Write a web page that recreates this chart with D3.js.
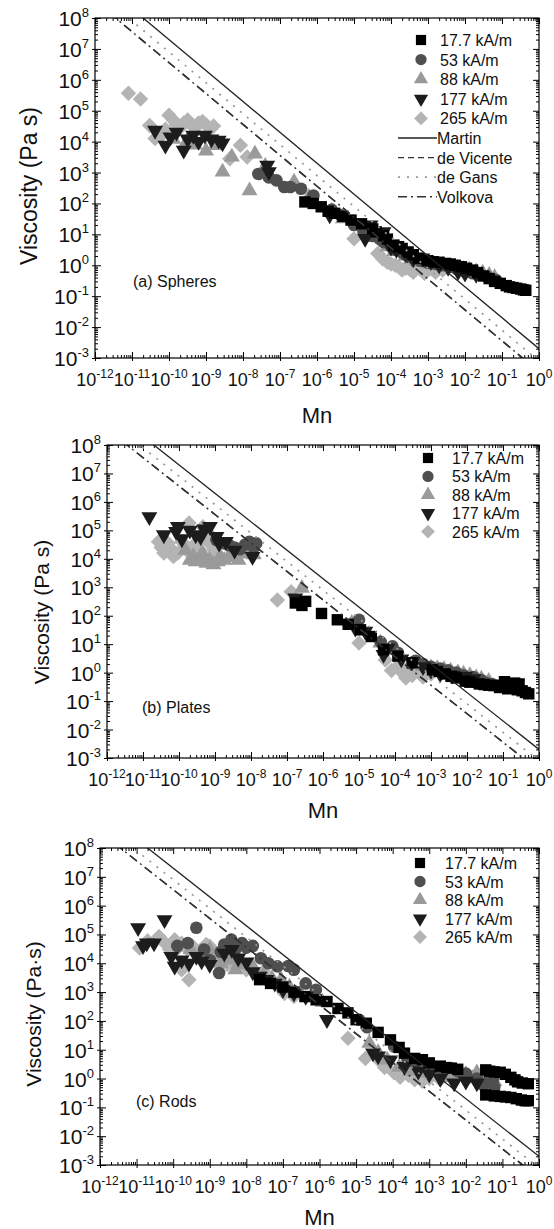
<!DOCTYPE html>
<html>
<head>
<meta charset="utf-8">
<script src="https://cdnjs.cloudflare.com/ajax/libs/d3/7.8.5/d3.min.js"></script>
<style>
body{margin:0;background:#fff}
svg{display:block;font-family:"Liberation Sans",Arial,sans-serif}
</style>
</head>
<body>
<svg id="fig" width="554" height="1229"></svg>
<script>
// tick exponents
var xExps = d3.range(-12, 1);
var yExps = d3.range(-3, 9);

var fields = ["17.7 kA/m", "53 kA/m", "88 kA/m", "177 kA/m", "265 kA/m"];
var models = ["Martin", "de Vicente", "de Gans", "Volkova"];
// viscosity = coef / Mn
var modelCoef = [2.0e-3, 3.6e-4, 8.0e-4, 3.6e-4];

// [Mn, viscosity (Pa s)]
var spheres17 = [[4.7e-7,112],[7.9e-7,100],[1.3e-6,78],[2e-6,56],[3e-6,48],[5e-6,38],[8.3e-6,29],[1.6e-5,22],[3.2e-5,15],[4e-5,12],[6.3e-5,9],[8e-5,7],[1.2e-4,4.5],[1.6e-4,4],[2e-4,3.5],[2.9e-4,2.7],[4e-4,2.2],[5.6e-4,1.7],[1e-3,1.4],[1.4e-3,1.3],[2e-3,1.25],[3e-3,1.15],[4e-3,1.1],[5.5e-3,1.0],[7.9e-3,0.9],[0.011,0.8],[0.016,0.7],[0.022,0.58],[0.032,0.45],[0.045,0.37],[0.063,0.3],[0.09,0.26],[0.13,0.22],[0.16,0.2],[0.2,0.19],[0.25,0.18],[0.32,0.17],[0.38,0.16],[0.44,0.155]];
var spheres53 = [[2.6e-8,900],[5e-8,700],[8e-8,560],[1.3e-7,340],[1.9e-7,340],[3.7e-7,300],[8e-7,180],[2.5e-6,63],[4.3e-6,42],[1e-5,20],[1.8e-5,12.6],[3.2e-5,8.9],[5e-5,7],[6.3e-5,5.6],[1e-4,4],[1.3e-4,3.2],[2e-4,2.6],[2.5e-4,2.2],[4e-4,1.7],[6.3e-4,1.4],[1e-3,1.2],[1.6e-3,1.1],[2.5e-3,1.0],[4e-3,0.9],[6e-3,0.75],[0.01,0.63],[0.016,0.55],[0.025,0.5],[0.04,0.42],[0.056,0.35],[0.07,0.33]];
var spheres88 = [[1.3e-10,12000],[3e-10,10000],[5e-10,7900],[1e-9,5000],[1.8e-9,7600],[2.8e-9,1050],[5e-9,3200],[1.5e-8,260],[2.1e-8,4000],[4e-8,1600],[2.4e-7,500],[6e-7,160],[2.5e-6,56],[5e-6,32],[3.2e-5,8],[8e-5,4],[1.2e-4,2.8],[2.5e-4,2],[3.5e-4,1.6],[5e-4,1.4],[7e-4,1.25],[1e-3,1.1],[1.6e-3,1.05],[2.5e-3,1.0],[4e-3,0.9],[6.3e-3,0.8],[9e-3,0.75],[0.013,0.7],[0.02,0.62],[0.03,0.56],[0.045,0.48],[0.063,0.4]];
var spheres177 = [[4.2e-11,23000],[8e-11,7600],[1.1e-10,14000],[1.6e-10,20000],[2.5e-10,5200],[3.2e-10,12000],[4.5e-10,16000],[6.3e-10,10000],[9.3e-10,16000],[1.4e-9,12000],[2.2e-9,11000],[2.8e-9,9000],[4.5e-8,1700],[5e-8,1050],[2.2e-6,42],[2e-5,7.3],[2.8e-5,20],[6.3e-5,12],[1e-4,3.8],[1.4e-4,3.2],[2.5e-4,2.3],[4e-4,1.6],[7e-4,1.7],[1.2e-3,1.3],[2e-3,1.0],[3.5e-3,0.85],[6.5e-3,0.62],[0.01,0.55],[0.02,0.5]];
var spheres265 = [[8e-12,3.7e5],[1.7e-11,2.4e5],[3e-11,33000],[4.2e-11,12600],[6.3e-11,16000],[8e-11,25000],[1e-10,71000],[1.3e-10,50000],[1.6e-10,35000],[2e-10,28000],[2.5e-10,40000],[3.2e-10,50000],[4e-10,35000],[5e-10,28000],[6.3e-10,40000],[8e-10,45000],[1e-9,35000],[1.3e-9,25000],[1.6e-9,32000],[4.4e-9,2800],[8.5e-9,7600],[1.3e-8,3200],[1e-5,7.2],[4.4e-5,2.4],[6e-5,1.6],[8e-5,1.26],[1e-4,1.1],[1.3e-4,1],[1.6e-4,0.9],[2e-4,0.7],[2.5e-4,0.8],[3.2e-4,0.75],[4e-4,0.6],[5e-4,0.9],[6.3e-4,0.75],[8e-4,0.55],[1e-3,0.7],[1.3e-3,0.75],[1.6e-3,0.6],[2e-3,0.8],[2.5e-3,0.7],[3.2e-3,0.9]];

var plates17 = [[1.7e-7,280],[2.6e-7,230],[3.3e-7,320],[9.1e-7,120],[2.5e-6,72],[5e-6,50],[1.1e-5,32],[2.2e-5,18.6],[4.8e-5,6.4],[1.2e-4,3.8],[3e-4,2.2],[1.1e-3,1.26],[1.5e-3,1.1],[2.5e-3,0.9],[3.6e-3,0.74],[5e-3,0.65],[8.9e-3,0.5],[0.012,0.46],[0.022,0.4],[0.03,0.38],[0.04,0.36],[0.055,0.35],[0.08,0.3],[0.11,0.48],[0.135,0.27],[0.16,0.35],[0.21,0.43],[0.25,0.25],[0.28,0.4],[0.34,0.23],[0.42,0.2],[0.52,0.18]];
var plates53 = [[1.1e-9,46000],[1.8e-9,35000],[2.5e-9,30000],[3.5e-9,25000],[5e-9,22000],[6.9e-9,32000],[9e-9,40000],[1.2e-8,25000],[1.4e-8,35000],[1e-5,72],[4e-5,12],[8.5e-5,8.4],[1.2e-4,5],[3.7e-4,2.6],[6e-4,2],[1e-3,1.6],[1.8e-3,1.4],[3e-3,1.2],[5e-3,1.0],[0.008,0.8],[0.015,0.7],[0.025,0.55],[0.035,0.43],[0.05,0.4],[0.07,0.35]];
var plates88 = [[1.5e-10,20000],[2e-10,9000],[2.5e-10,12000],[2.9e-10,7900],[4e-10,10000],[4.5e-10,16000],[5.8e-10,7000],[7e-10,9000],[9.1e-10,6200],[1.2e-9,8000],[1.4e-9,12000],[1.8e-9,9000],[2.5e-9,13000],[3.5e-9,11000],[4.5e-9,9000],[5.5e-9,18000],[6.9e-9,15000],[9e-9,20000],[1.2e-8,14000],[2.6e-7,930],[6.3e-6,55],[3.9e-5,11],[5.9e-4,1.66],[1e-3,1.5],[1.5e-3,1.4],[2.3e-3,1.3],[3.5e-3,1.15],[5.6e-3,1.0],[8e-3,0.9],[0.012,0.8],[0.018,0.67],[0.025,0.6],[0.04,0.5]];
var plates177 = [[1.5e-11,3e5],[3.8e-11,69000],[8.3e-11,91000],[9.3e-11,1.35e5],[1.2e-10,50000],[2e-10,1e5],[2.9e-10,69000],[4e-10,60000],[5e-10,1.1e5],[7.2e-10,1.35e5],[1.1e-9,60000],[1.3e-9,35000],[2e-9,40000],[3.5e-9,20000],[1.1e-8,12000],[1.7e-7,420],[7.9e-6,36],[1.5e-5,28],[4.8e-5,4.3],[6.3e-5,7.3],[1.5e-4,3],[3e-4,2.4],[6e-4,1.6],[1e-3,1.2],[1.8e-3,0.9],[4e-3,0.8],[8.9e-3,0.74],[0.015,0.6]];
var plates265 = [[2.7e-11,40000],[3.2e-11,25000],[3.8e-11,16000],[5e-11,35000],[5.9e-11,23000],[7e-11,12000],[9.3e-11,16000],[1.2e-10,40000],[1.5e-10,25000],[1.9e-10,1.8e5],[2.2e-10,14000],[2.9e-10,35000],[3.5e-10,22000],[4.6e-10,1.35e5],[5.8e-10,46000],[6.5e-10,80000],[8e-10,30000],[9.1e-10,21000],[1.1e-9,12000],[5.4e-8,360],[1.3e-7,700],[1e-5,11],[5.4e-5,2.8],[8e-5,1.2],[1.2e-4,1.7],[1.6e-4,1.0],[2e-4,0.65],[2.3e-4,1.5],[3e-4,0.8],[3e-4,1.3],[4.7e-4,1.0],[6e-4,0.7],[7.4e-4,1.2],[1e-3,0.9]];

var rods17 = [[2.3e-8,2700],[4.6e-8,2000],[1e-7,1500],[2e-7,1000],[4e-7,700],[8.1e-7,540],[1.6e-6,470],[3.2e-6,270],[6e-6,190],[1e-5,110],[1.9e-5,83],[4e-5,40],[8.7e-5,22],[1.5e-4,12],[2.1e-4,7.6],[4e-4,5],[6.5e-4,4.5],[1e-3,3.5],[2e-3,2.7],[3e-3,2.4],[4e-3,2.3],[6e-3,2.1],[0.035,2],[0.045,1.8],[0.06,1.7],[0.087,1.65],[0.12,1.4],[0.17,1.1],[0.22,0.9],[0.26,0.77],[0.35,0.7],[0.51,0.66],[0.035,0.27],[0.06,0.25],[0.087,0.24],[0.12,0.23],[0.17,0.22],[0.24,0.2],[0.33,0.18],[0.42,0.17],[0.51,0.17]];
var rods53 = [[1.3e-10,40000],[2.5e-10,50000],[4.3e-10,1.7e5],[7e-10,30000],[1e-9,13000],[1.8e-9,4600],[2e-9,25000],[2.5e-9,45000],[3.9e-9,66000],[5e-9,30000],[7.6e-9,50000],[1e-8,35000],[1.5e-8,40000],[2.5e-8,15000],[4e-8,10000],[7.1e-8,7800],[1.4e-7,8000],[2e-7,6000],[4.2e-7,2000],[8e-7,1200],[1.2e-5,110],[2e-5,60],[1.1e-4,13],[2.5e-4,5],[4.2e-4,3.5],[1e-3,2.2],[2e-3,2],[6e-3,1.8],[0.01,1.5],[0.02,1.0],[0.03,0.6],[0.045,1.3],[0.055,0.9],[0.06,0.5]];
var rods88 = [[3e-10,30000],[6e-10,25000],[1e-9,30000],[2e-9,20000],[2e-9,10000],[3.9e-9,13000],[5e-9,6000],[8e-9,9000],[1.5e-8,7800],[3e-8,4000],[5e-8,3000],[8.9e-8,2700],[1.5e-7,1500],[3e-7,900],[6.6e-7,700],[1.2e-6,450],[2.3e-5,17],[4e-5,8],[7.1e-5,4.4],[1.5e-4,2.5],[3e-4,1.8],[6.5e-4,1.6],[1.2e-3,1.5],[2.5e-3,1.3],[4e-3,1.1],[6e-3,1.2],[0.01,1.4],[0.015,1.0],[0.02,1.6],[0.03,1.2],[0.045,1.0],[0.06,0.8]];
var rods177 = [[1.1e-11,1.7e5],[1.5e-11,40000],[1.9e-11,50000],[3e-11,50000],[5.8e-11,3.2e5],[8.9e-11,17000],[1.1e-10,7800],[1.7e-10,13000],[2.7e-10,10000],[4.3e-10,17000],[6e-10,12000],[1e-9,9000],[2.5e-9,22000],[4e-9,30000],[6e-9,15000],[1e-8,11000],[1.5e-8,5000],[2.3e-8,3500],[3.6e-8,2700],[6e-8,2000],[1e-7,1200],[2e-7,900],[4.2e-7,700],[1.6e-6,110],[2.9e-5,7.6],[4e-5,6],[8.7e-5,4.4],[2.1e-4,2.6],[5e-4,1.8],[1e-3,1.4],[2e-3,1.0],[4.8e-3,0.7],[0.01,0.8],[0.02,0.7]];
var rods265 = [[1.2e-11,34000],[2e-11,60000],[4.1e-11,85000],[6e-11,50000],[8e-11,30000],[1.1e-10,66000],[1.4e-10,35000],[1.7e-10,50000],[2.5e-10,30000],[3.4e-10,39000],[5e-10,20000],[6e-10,30000],[8e-10,45000],[1e-9,39000],[1.5e-9,20000],[2e-9,25000],[3e-9,9000],[4e-9,12000],[1.7e-10,5900],[2.7e-10,2700],[6.2e-9,13000],[1e-8,6000],[2e-8,4000],[2.9e-8,5200],[5e-8,2500],[7e-8,1800],[1.1e-7,900],[2e-7,700],[6e-6,25],[1.8e-5,5],[4.5e-5,4],[6e-5,2.4],[1.1e-4,1.6],[1.6e-4,1.1],[2.7e-4,1.3],[4e-4,0.9],[6.5e-4,0.8],[1e-3,1.0],[2e-3,0.9]];

var markers = [
	{type: d3.symbolSquare, size: 130, fill: "#000", rot: 0},
	{type: d3.symbolCircle, size: 125, fill: "#4f4f4f", rot: 0},
	{type: d3.symbolTriangle, size: 110, fill: "#9a9a9a", rot: 0},
	{type: d3.symbolTriangle, size: 110, fill: "#1c1c1c", rot: 180},
	{type: d3.symbolSquare, size: 120, fill: "#b4b4b4", rot: 45}
];
// de Vicente and Volkova share a period so their long dashes line up
var lineStyles = [
	{dash: null, color: "#222", w: 1.3},
	{dash: "9,10", color: "#333", w: 1.4},
	{dash: "2,7", color: "#999", w: 1.7},
	{dash: "9,4,2,4", color: "#333", w: 1.5}
];
var drawOrder = [4, 2, 1, 3, 0];

var panels = [
	{id: "a", l: 95, t: 18, r: 539, b: 358, series: [spheres17, spheres53, spheres88, spheres177, spheres265],
	 tag: "(a) Spheres", tagX: 133, tagY: 287, yTitle: "Viscosity (Pa s)", yTitleX: 29, yTitleY: 186, titleSize: 23,
	 legX: 421, legTX: 440, legY: 40, legDY: 19.6, withLines: true, mnY: 423},
	{id: "b", l: 107, t: 445, r: 539, b: 758, series: [plates17, plates53, plates88, plates177, plates265],
	 tag: "(b) Plates", tagX: 142, tagY: 713, yTitle: "Viscosity (Pa s)", yTitleX: 41, yTitleY: 612, titleSize: 21,
	 legX: 428, legTX: 452, legY: 458, legDY: 18.4, withLines: false, mnY: 818},
	{id: "c", l: 100, t: 848, r: 539, b: 1165, series: [rods17, rods53, rods88, rods177, rods265],
	 tag: "(c) Rods", tagX: 136, tagY: 1107, yTitle: "Viscosity (Pa\u00b7s)", yTitleX: 33, yTitleY: 1014, titleSize: 21,
	 legX: 420, legTX: 445, legY: 863, legDY: 18.5, withLines: false, mnY: 1225}
];

var svg = d3.select("#fig");

function symbolPath(m, k) {
	return d3.symbol().type(m.type).size(m.size * (k || 1))();
}

function drawPanel(p) {
	var x = d3.scaleLog().domain([1e-12, 1]).range([p.l, p.r]);
	var y = d3.scaleLog().domain([1e-3, 1e8]).range([p.b, p.t]);
	var g = svg.append("g");

	svg.append("clipPath").attr("id", "clip-" + p.id)
		.append("rect").attr("x", p.l).attr("y", p.t)
		.attr("width", p.r - p.l).attr("height", p.b - p.t);

	var majX = xExps.map(function(e){ return Math.pow(10, e); });
	var majY = yExps.map(function(e){ return Math.pow(10, e); });
	var minX = [], minY = [];
	xExps.slice(0, -1).forEach(function(e){ for (var k = 2; k < 10; k++) minX.push(k * Math.pow(10, e)); });
	yExps.slice(0, -1).forEach(function(e){ for (var k = 2; k < 10; k++) minY.push(k * Math.pow(10, e)); });

	function ticks(axis, vals, size, tr) {
		g.append("g").attr("transform", tr)
			.call(axis.tickValues(vals).tickSizeInner(size).tickSizeOuter(0).tickFormat(""))
			.call(function(s){ s.select(".domain").remove(); s.selectAll("line").attr("stroke", "#000"); });
	}
	ticks(d3.axisBottom(x), majX, -6, "translate(0," + p.b + ")");
	ticks(d3.axisBottom(x), majX, 3, "translate(0," + p.b + ")");
	ticks(d3.axisBottom(x), minX, -3, "translate(0," + p.b + ")");
	ticks(d3.axisTop(x), majX, -6, "translate(0," + p.t + ")");
	ticks(d3.axisTop(x), minX, -3, "translate(0," + p.t + ")");
	ticks(d3.axisLeft(y), majY, -6, "translate(" + p.l + ",0)");
	ticks(d3.axisLeft(y), majY, 3, "translate(" + p.l + ",0)");
	ticks(d3.axisLeft(y), minY, -3, "translate(" + p.l + ",0)");
	ticks(d3.axisRight(y), majY, -6, "translate(" + p.r + ",0)");
	ticks(d3.axisRight(y), minY, -3, "translate(" + p.r + ",0)");

	// markers
	var mg = g.append("g").attr("clip-path", "url(#clip-" + p.id + ")");
	drawOrder.forEach(function(si){
		var m = markers[si];
		mg.append("g").selectAll("path")
			.data(p.series[si])
			.enter()
			.append("path")
			.attr("d", symbolPath(m))
			.attr("fill", m.fill)
			.attr("transform", function(d){
				return "translate(" + x(d[0]) + "," + y(d[1]) + ") rotate(" + m.rot + ")";
			});
	});

	// model lines
	var lg = g.append("g").attr("clip-path", "url(#clip-" + p.id + ")");
	modelCoef.forEach(function(c, i){
		var st = lineStyles[i];
		var line = d3.line()
			.x(function(mn){ return x(mn); })
			.y(function(mn){ return y(c / mn); });
		lg.append("path")
			.attr("d", line([1e-12, 1]))
			.attr("fill", "none")
			.attr("stroke", st.color)
			.attr("stroke-width", st.w)
			.attr("stroke-dasharray", st.dash);
	});

	// frame
	g.append("rect").attr("x", p.l).attr("y", p.t)
		.attr("width", p.r - p.l).attr("height", p.b - p.t)
		.attr("fill", "none").attr("stroke", "#000").attr("stroke-width", 1.2);

	// tick labels
	xExps.forEach(function(e){
		var t = g.append("text").attr("x", x(Math.pow(10, e))).attr("y", p.b + 28)
			.attr("text-anchor", "middle").style("font-size", "18px").attr("fill", "#111");
		t.append("tspan").text("10");
		t.append("tspan").attr("dy", -8).style("font-size", "12px").text(e);
	});
	yExps.forEach(function(e){
		var t = g.append("text").attr("x", p.l - 6).attr("y", y(Math.pow(10, e)) + 8)
			.attr("text-anchor", "end").style("font-size", "21px").attr("fill", "#111");
		t.append("tspan").text("10");
		t.append("tspan").attr("dy", -9).style("font-size", "13px").text(e);
	});

	// titles
	g.append("text").attr("x", (p.l + p.r) / 2).attr("y", p.mnY)
		.attr("text-anchor", "middle").style("font-size", "22px").attr("fill", "#111").text("Mn");
	g.append("text")
		.attr("transform", "translate(" + p.yTitleX + "," + p.yTitleY + ") rotate(-90)")
		.attr("text-anchor", "middle").attr("dominant-baseline", "central")
		.style("font-size", p.titleSize + "px").attr("fill", "#111").text(p.yTitle);
	g.append("text").attr("x", p.tagX).attr("y", p.tagY)
		.style("font-size", "16px").attr("fill", "#111").text(p.tag);

	// legend
	fields.forEach(function(f, i){
		var ly = p.legY + i * p.legDY;
		var m = markers[i];
		g.append("path").attr("d", symbolPath(m, 0.8))
			.attr("fill", m.fill)
			.attr("transform", "translate(" + p.legX + "," + ly + ") rotate(" + m.rot + ")");
		g.append("text").attr("x", p.legTX).attr("y", ly + 6)
			.style("font-size", "16px").attr("fill", "#111").text(f);
	});
	if (p.withLines) {
		models.forEach(function(name, i){
			var ly = p.legY + (fields.length + i) * p.legDY;
			var st = lineStyles[i];
			var dash = i === 1 ? "6,4" : st.dash;
			g.append("line").attr("x1", 398).attr("x2", 437).attr("y1", ly).attr("y2", ly)
				.attr("stroke", st.color).attr("stroke-width", st.w).attr("stroke-dasharray", dash);
			g.append("text").attr("x", 437).attr("y", ly + 6)
				.style("font-size", "16px").attr("fill", "#111").text(name);
		});
	}
}

panels.forEach(drawPanel);
</script>
</body>
</html>
